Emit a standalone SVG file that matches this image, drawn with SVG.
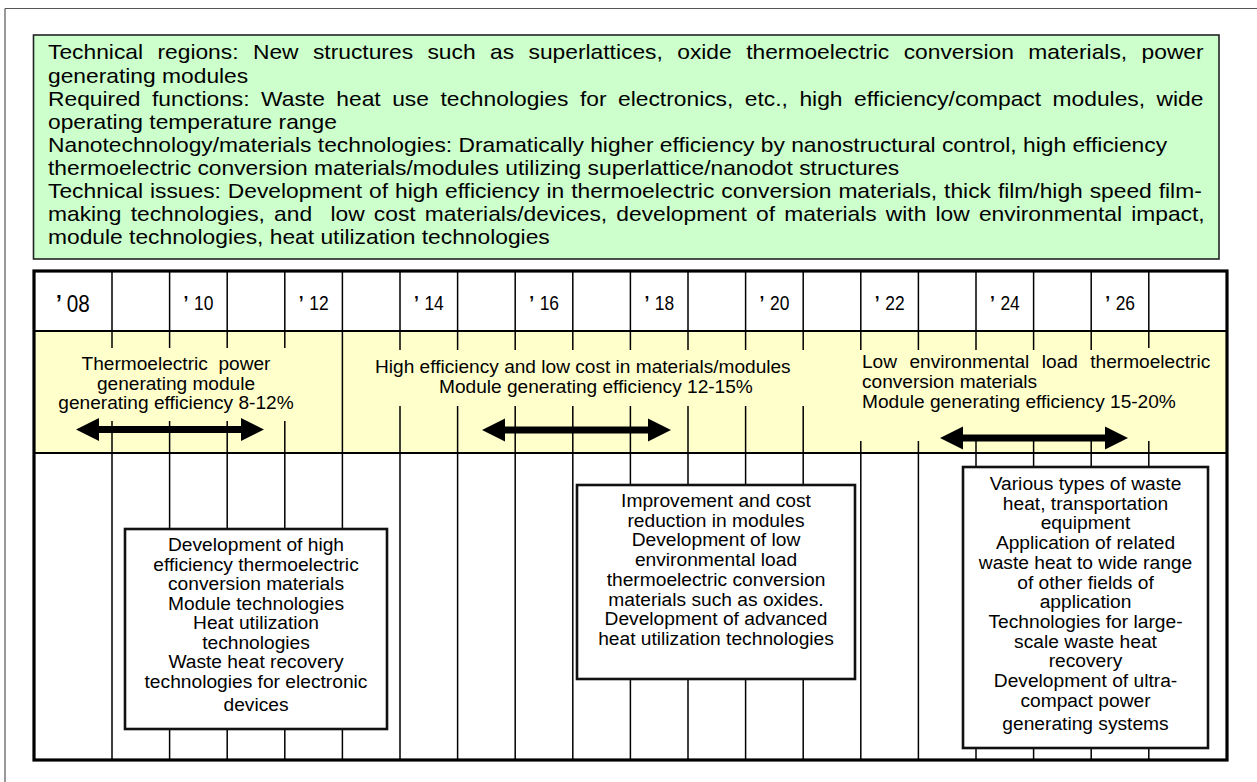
<svg xmlns="http://www.w3.org/2000/svg" width="1257" height="782" viewBox="0 0 1257 782">
<style>
text{font-family:"Liberation Sans",Arial,sans-serif;fill:#000}
.g{font-size:20.5px}
.band{font-size:19.1px}
.box{font-size:19.2px;text-anchor:middle}
.yr{font-size:20px}
.yr0{font-size:23px}
.ap{font-weight:bold}
.cl{stroke:#000;stroke-width:1.5;fill:none}
.nb{fill:#fff;stroke:#111;stroke-width:2.6}
.arr{fill:#000}
</style>
<rect width="1257" height="782" fill="#fff"/>
<path d="M5,8.5H1257M5,8.5V782" stroke="#555" stroke-width="1.2" fill="none"/>

<g id="summary">
<rect x="33.5" y="35" width="1185.5" height="224" fill="#CCFFCC" stroke="#222" stroke-width="1.6"/>
<g transform="scale(1.1122 1)">
<text class="g" x="43.16" y="59.5" word-spacing="7.28">Technical regions: New structures such as superlattices, oxide thermoelectric conversion materials, power</text>
<text class="g" x="43.16" y="82.6">generating modules</text>
<text class="g" x="43.16" y="105.7" word-spacing="4.66">Required functions: Waste heat use technologies for electronics, etc., high efficiency/compact modules, wide</text>
<text class="g" x="43.16" y="128.8">operating temperature range</text>
<text class="g" x="43.16" y="151.9">Nanotechnology/materials technologies: Dramatically higher efficiency by nanostructural control, high efficiency</text>
<text class="g" x="43.16" y="175">thermoelectric conversion materials/modules utilizing superlattice/nanodot structures</text>
<text class="g" x="43.16" y="198.1" word-spacing="0.54">Technical issues: Development of high efficiency in thermoelectric conversion materials, thick film/high speed film-</text>
<text class="g" x="43.16" y="221.2" word-spacing="2.55" xml:space="preserve">making technologies, and  low cost materials/devices, development of materials with low environmental impact,</text>
<text class="g" x="43.16" y="244.3">module technologies, heat utilization technologies</text>
</g>
</g>

<g id="timeline-grid">
<rect x="34" y="271" width="1193" height="489" fill="#fff"/>
<rect x="34" y="331" width="1193" height="122" fill="#FFFFCC"/>
<path class="cl" d="M112,271V348M112,421V760M169.6,271V348M169.6,421V760M227.2,271V348M227.2,421V760M284.8,271V348M284.8,421V760
M342.4,271V760
M400,271V350M400,406V760M457.6,271V350M457.6,406V760M515.2,271V350M515.2,406V760M572.8,271V350M572.8,406V760
M630.4,271V350M630.4,406V760M688,271V350M688,406V760M745.6,271V350M745.6,406V760M803.2,271V350M803.2,406V760
M860.8,271V350M860.8,441V760M918.4,271V350M918.4,441V760M976,271V350M976,441V760M1033.6,271V350M1033.6,441V760
M1091.2,271V350M1091.2,441V760M1148.8,271V348M1148.8,441V760"/>
<path d="M34,331H1227M34,453H1227" stroke="#000" stroke-width="1.8" fill="none"/>
<rect x="34" y="271" width="1193" height="489" fill="none" stroke="#000" stroke-width="3.2"/>
</g>

<g id="years">
<text class="yr0" transform="translate(56 311.5) scale(0.9 1)"><tspan class="ap">’</tspan><tspan x="12">08</tspan></text>
<text class="yr" transform="translate(183.6 310) scale(0.87 1)"><tspan class="ap">’</tspan><tspan x="12">10</tspan></text>
<text class="yr" transform="translate(298.8 310) scale(0.87 1)"><tspan class="ap">’</tspan><tspan x="12">12</tspan></text>
<text class="yr" transform="translate(414 310) scale(0.87 1)"><tspan class="ap">’</tspan><tspan x="12">14</tspan></text>
<text class="yr" transform="translate(529.2 310) scale(0.87 1)"><tspan class="ap">’</tspan><tspan x="12">16</tspan></text>
<text class="yr" transform="translate(644.4 310) scale(0.87 1)"><tspan class="ap">’</tspan><tspan x="12">18</tspan></text>
<text class="yr" transform="translate(759.6 310) scale(0.87 1)"><tspan class="ap">’</tspan><tspan x="12">20</tspan></text>
<text class="yr" transform="translate(874.8 310) scale(0.87 1)"><tspan class="ap">’</tspan><tspan x="12">22</tspan></text>
<text class="yr" transform="translate(990 310) scale(0.87 1)"><tspan class="ap">’</tspan><tspan x="12">24</tspan></text>
<text class="yr" transform="translate(1105.2 310) scale(0.87 1)"><tspan class="ap">’</tspan><tspan x="12">26</tspan></text>
</g>

<g id="phase1">
<text class="band" text-anchor="middle" xml:space="preserve"><tspan x="176" y="370">Thermoelectric  power</tspan><tspan x="176" y="389.5">generating module</tspan><tspan x="176" y="409">generating efficiency 8-12%</tspan></text>
</g>
<g id="phase2">
<text class="band"><tspan x="375" y="373">High efficiency and low cost in materials/modules</tspan><tspan x="439" y="393">Module generating efficiency 12-15%</tspan></text>
</g>
<g id="phase3">
<text class="band"><tspan x="862" y="368" word-spacing="7.1">Low environmental load thermoelectric</tspan><tspan x="862" y="388">conversion materials</tspan><tspan x="862" y="408">Module generating efficiency 15-20%</tspan></text>
</g>

<g id="connectors">
<path class="arr" d="M76,429.5L99,418V426H241V418L264,429.5L241,441V433H99V441Z"/>
<path class="arr" d="M482,430L505,418.5V426.5H648V418.5L671,430L648,441.5V433.5H505V441.5Z"/>
<path class="arr" d="M940,438L963,426.5V434.5H1105V426.5L1128,438L1105,449.5V441.5H963V449.5Z"/>
</g>

<g id="box1">
<rect class="nb" x="125" y="529" width="262" height="200"/>
<text class="box"><tspan x="256" y="551">Development of high</tspan><tspan x="256" y="570.5">efficiency thermoelectric</tspan><tspan x="256" y="590">conversion materials</tspan><tspan x="256" y="609.5">Module technologies</tspan><tspan x="256" y="629">Heat utilization</tspan><tspan x="256" y="648.5">technologies</tspan><tspan x="256" y="668">Waste heat recovery</tspan><tspan x="256" y="687.5">technologies for electronic</tspan><tspan x="256" y="710.5">devices</tspan></text>
</g>

<g id="box2">
<rect class="nb" x="577" y="485" width="278" height="194"/>
<text class="box"><tspan x="716" y="507">Improvement and cost</tspan><tspan x="716" y="526.7">reduction in modules</tspan><tspan x="716" y="546.4">Development of low</tspan><tspan x="716" y="566">environmental load</tspan><tspan x="716" y="585.8">thermoelectric conversion</tspan><tspan x="716" y="605.5">materials such as oxides.</tspan><tspan x="716" y="625.2">Development of advanced</tspan><tspan x="716" y="645">heat utilization technologies</tspan></text>
</g>

<g id="box3">
<rect class="nb" x="963" y="467" width="245" height="281"/>
<text class="box"><tspan x="1085.5" y="490">Various types of waste</tspan><tspan x="1085.5" y="509.7">heat, transportation</tspan><tspan x="1085.5" y="529.4">equipment</tspan><tspan x="1085.5" y="549.1">Application of related</tspan><tspan x="1085.5" y="568.8">waste heat to wide range</tspan><tspan x="1085.5" y="588.5">of other fields of</tspan><tspan x="1085.5" y="608.2">application</tspan><tspan x="1085.5" y="627.9">Technologies for large-</tspan><tspan x="1085.5" y="647.6">scale waste heat</tspan><tspan x="1085.5" y="667.3">recovery</tspan><tspan x="1085.5" y="687">Development of ultra-</tspan><tspan x="1085.5" y="706.7">compact power</tspan><tspan x="1085.5" y="730">generating systems</tspan></text>
</g>
</svg>
